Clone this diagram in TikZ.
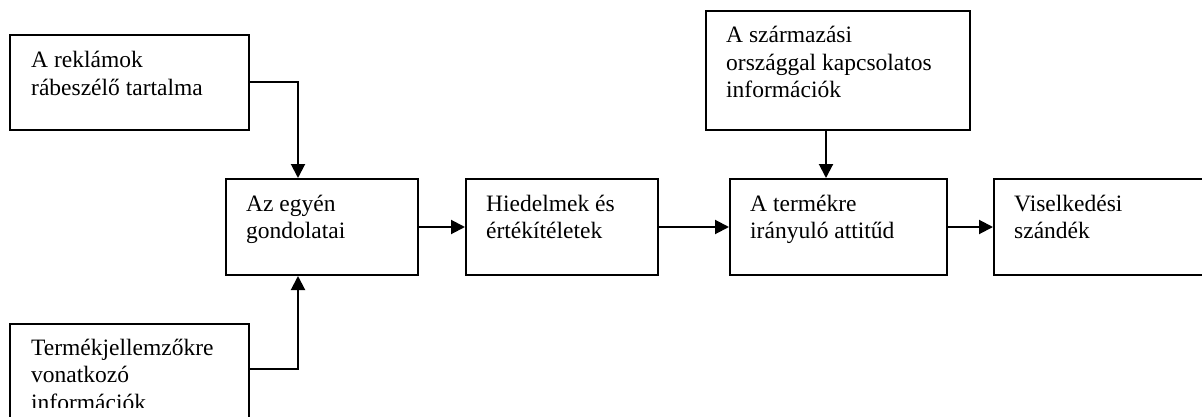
\documentclass[tikz,border=0pt]{standalone}
\usepackage{fontspec}
\setmainfont{Liberation Serif}
\usetikzlibrary{arrows.meta}
\begin{document}
\begin{tikzpicture}[x=1pt,y=-1pt,
  box/.style={draw=black,line width=2pt,inner sep=0pt,anchor=north west},
  txt/.style={inner sep=0pt,anchor=base west,align=left,
    font=\fontsize{23.5pt}{27.5pt}\selectfont},
  flow/.style={line width=2pt,-{Triangle[length=14pt,width=14pt]}}]
\useasboundingbox (0,0) rectangle (1202,417);
\clip (0,0) rectangle (1202,417);

% source boxes
\node[box,minimum width=239pt,minimum height=95pt] (rek) at (9,34) {};
\node[box,minimum width=239pt,minimum height=97pt] (ter) at (9,323) {};
\node[box,minimum width=264pt,minimum height=119pt] (szar) at (705,10) {};

% main chain
\node[box,minimum width=192pt,minimum height=96pt] (gond) at (225,178) {};
\node[box,minimum width=192pt,minimum height=96pt] (hied) at (465,178) {};
\node[box,minimum width=217pt,minimum height=96pt] (att) at (729,178) {};
\node[box,minimum width=222pt,minimum height=96pt] (visel) at (993,178) {};

% labels (anchored at the baseline of their last line)
\node[txt] (rek-t) at ([xshift=22pt,yshift=-61.5pt]rek.north west) {A reklámok\\rábeszélő tartalma};
\begin{scope}
  % the text frame cuts the last line short
  \clip ([xshift=2pt,yshift=-2pt]ter.north west) rectangle ([xshift=-2pt,yshift=-84pt]ter.north east);
  \node[txt] (ter-t) at ([xshift=22pt,yshift=-87pt]ter.north west) {Termékjellemzőkre\\vonatkozó\\információk};
\end{scope}
\node[txt] (szar-t) at ([xshift=21pt,yshift=-88pt]szar.north west) {A származási\\országgal kapcsolatos\\információk};
\node[txt] (gond-t) at ([xshift=21pt,yshift=-60.5pt]gond.north west) {Az egyén\\gondolatai};
\node[txt] (hied-t) at ([xshift=21pt,yshift=-60.5pt]hied.north west) {Hiedelmek és\\értékítéletek};
\node[txt] (att-t) at ([xshift=21pt,yshift=-60.5pt]att.north west) {A termékre\\irányuló attitűd};
\node[txt] (visel-t) at ([xshift=21pt,yshift=-60.5pt]visel.north west) {Viselkedési\\szándék};

% connectors
\draw[flow] (rek.east) -| ([xshift=-24pt]gond.north);
\draw[flow] ([yshift=-46pt]ter.north east) -| ([xshift=-24pt]gond.south);
\draw[flow] ([xshift=-12pt]szar.south) -- ([xshift=-12pt]szar.south |- att.north);
\draw[flow] (gond.east) -- (hied.west);
\draw[flow] (hied.east) -- (att.west);
\draw[flow] (att.east) -- (visel.west);
\end{tikzpicture}
\end{document}
